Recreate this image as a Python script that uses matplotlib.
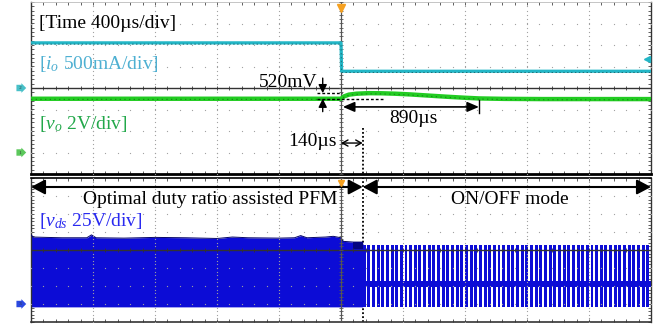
import numpy as np
import matplotlib
matplotlib.use("Agg")
import matplotlib.pyplot as plt

plt.rcParams['font.family'] = ['Liberation Serif', 'DejaVu Serif']
plt.rcParams['mathtext.fontset'] = 'custom'
plt.rcParams['mathtext.rm'] = 'Liberation Serif'
plt.rcParams['mathtext.it'] = 'Liberation Serif:italic'

# ---- scope settings -------------------------------------------------------
TIME_PER_DIV = 400.0        # us
N_HDIV, N_VDIV = 10, 8
IO_PER_DIV = 0.5            # A/div
VO_PER_DIV = 2.0            # V/div
VDS_PER_DIV = 25.0          # V/div
IO_REF, VO_REF, VDS_REF = 0.0, -3.0, -3.0   # ground markers, in divisions

# ---- events ---------------------------------------------------------------
t_step = 0.0                # load step (us)
t_mode = 140.0              # switch to ON/OFF mode (us)
t_settle = 890.0            # vo back to regulation (us)
vo_nominal = 5.0            # V
vo_overshoot = 0.52         # V

# ---- output current io (A) ------------------------------------------------
io_t = [-2000, 0, 4, 2000]
io_a = [1.05, 1.05, 0.39, 0.39]

# ---- output voltage vo (V) ------------------------------------------------
vo_t = [-2000, 0, 20, 50, 100, 180, 260, 350, 450, 560, 680, 790, 890, 1050, 1300, 2000]
vo_v = [5.0, 5.0, 5.22, 5.38, 5.47, 5.52, 5.51, 5.47, 5.40, 5.30, 5.19, 5.10, 5.03,
        4.99, 4.97, 4.97]

# ---- switch voltage vds envelope during PFM (V) ---------------------------
vds_top_t = [-2000, -1985, -1900, -1800, -1640, -1610, -1580, -1400, -1200, -1000,
             -800, -700, -600, -400, -300, -260, -220, -100, -50, 0, 15, 80, 140]
vds_top_v = [96, 93, 92.5, 92, 92, 96, 92, 91.5, 92.5, 92,
             91, 93, 92, 91.5, 92, 95, 92, 93, 94, 92, 87, 86, 86]
vds_low = -4.0

# ---- ON/OFF bursts (V, us) ------------------------------------------------
burst_period = 30.0
burst_on = 19.0
burst_peak = 82.0
idle_lo, idle_hi = 24.0, 32.0


def io_div(a):
    return np.asarray(a) / IO_PER_DIV + IO_REF


def vo_div(v):
    return np.asarray(v) / VO_PER_DIV + VO_REF


def vds_div(v):
    return np.asarray(v) / VDS_PER_DIV + VDS_REF


W, H = 657, 327
fig = plt.figure(figsize=(W / 100, H / 100), dpi=100)
fig.patch.set_facecolor('white')
L, R = 31, 651
ax1 = fig.add_axes([L / W, 1 - 174 / H, (R - L) / W, 172 / H])
ax2 = fig.add_axes([L / W, 1 - 322 / H, (R - L) / W, 144 / H])

tmin, tmax = -N_HDIV / 2 * TIME_PER_DIV, N_HDIV / 2 * TIME_PER_DIV
GRID = '#a0a0a0'

for ax in (ax1, ax2):
    ax.set_xlim(tmin, tmax)
    ax.set_ylim(-N_VDIV / 2, N_VDIV / 2)
    ax.set_xticks(np.arange(tmin, tmax + 1, TIME_PER_DIV / 5))
    ax.set_yticks(np.arange(-4, 4.01, 0.2))
    ax.tick_params(direction='in', length=2.5, width=0.6, color='#444444',
                   top=True, right=True, labelbottom=False, labelleft=False)
    # dotted graticule
    ys = np.arange(-4, 4.01, 0.2)
    for i in range(-4, 5):
        x = i * TIME_PER_DIV
        if i == 0:
            continue
        ax.plot(np.full(ys.shape, x), ys, ls='none', marker='o', ms=0.9,
                mec='none', mfc=GRID, zorder=4)
    xs = np.arange(tmin, tmax + 1, TIME_PER_DIV / 5)
    for j in range(-3, 4):
        if j == 0:
            continue
        ax.plot(xs, np.full(xs.shape, j), ls='none', marker='o', ms=0.9,
                mec='none', mfc=GRID, zorder=4)
    # centre cross with tick marks
    ax.axvline(0, color='#555555', lw=0.9, zorder=4)
    ax.axhline(0, color='#333333', lw=1.0, zorder=4)
    ax.plot(xs, np.zeros_like(xs), ls='none', marker='|', ms=3.5, mew=0.6,
            color='#333333', zorder=4)
    ax.plot(np.zeros_like(ys), ys, ls='none', marker='_', ms=3.5, mew=0.6,
            color='#555555', zorder=4)
    for s in ('left', 'right'):
        ax.spines[s].set_color('#333333')
        ax.spines[s].set_linewidth(1.0)

ax1.spines['top'].set_color('#bbbbbb')
ax1.spines['top'].set_linewidth(0.6)
ax1.spines['bottom'].set_color('black')
ax1.spines['bottom'].set_linewidth(2.0)
ax2.spines['top'].set_color('black')
ax2.spines['top'].set_linewidth(1.2)
ax2.spines['bottom'].set_color('#333333')
ax2.spines['bottom'].set_linewidth(1.2)

# ---- top panel traces -----------------------------------------------------
IO_C, VO_C = '#22b6c6', '#22cc22'
ax1.plot(io_t, io_div(io_a), color=IO_C, lw=2.3, zorder=5)
ax1.plot(io_t, io_div(io_a) - 0.06, color='#1a6f78', lw=0.7,
         dashes=(1.5, 2.5), zorder=6)
ax1.plot(vo_t, vo_div(vo_v), color=VO_C, lw=3.2, zorder=5)
ax1.plot(vo_t, vo_div(vo_v) - 0.03, color='#168a16', lw=0.8,
         dashes=(1.2, 3.0), zorder=6)

# overshoot markers
y_pk = vo_div(vo_nominal + vo_overshoot)
y_nom = vo_div(vo_nominal)
ax1.plot([-155, 6], [y_pk, y_pk], color='black', lw=1.0, dashes=(2, 1.5), zorder=7)
ax1.plot([-155, 284], [y_nom, y_nom], color='black', lw=1.0, dashes=(2, 1.5), zorder=7)
x_ov = -118
ax1.annotate('', xy=(x_ov, y_pk), xytext=(x_ov, y_pk + 0.7),
             arrowprops=dict(arrowstyle='-|>,head_length=0.5,head_width=0.25',
                             mutation_scale=10, color='black', lw=1.0,
                             shrinkA=0, shrinkB=0), zorder=8)
ax1.annotate('', xy=(x_ov, y_nom), xytext=(x_ov, y_nom - 0.6),
             arrowprops=dict(arrowstyle='-|>,head_length=0.5,head_width=0.25',
                             mutation_scale=10, color='black', lw=1.0,
                             shrinkA=0, shrinkB=0), zorder=8)
ax1.text(-150, y_pk + 0.48, '520mV', ha='right', va='center', fontsize=14, zorder=8)

# settling time
y_st = -0.88
ax1.annotate('', xy=(t_settle, y_st), xytext=(t_step + 12, y_st),
             arrowprops=dict(arrowstyle='<|-|>,head_length=0.7,head_width=0.3',
                             mutation_scale=10, color='black', lw=1.2,
                             shrinkA=0, shrinkB=0), zorder=8)
ax1.plot([t_settle, t_settle], [-0.56, -1.16], color='black', lw=1.0, zorder=8)
ax1.text((t_step + t_settle) / 2 + 20, -1.44, '890µs', ha='center', va='center',
         fontsize=14, zorder=8)

# mode change time
y_md = -2.56
ax1.annotate('', xy=(t_mode, y_md), xytext=(t_step, y_md),
             arrowprops=dict(arrowstyle='<->,head_length=0.4,head_width=0.22',
                             mutation_scale=10, color='black', lw=1.0,
                             shrinkA=0, shrinkB=0), zorder=8)
ax1.text(-26, -2.5, '140µs', ha='right', va='center', fontsize=14, zorder=8)
ax1.plot([t_mode, t_mode], [-1.86, -4], color='black', lw=1.3, ls=(0, (1, 1.2)),
         zorder=8)

# channel labels
x_lab = tmin + 52
ax1.text(x_lab, 2.98, '[Time 400µs/div]', ha='left', va='center', fontsize=14,
         color='black', zorder=8)
ax1.text(x_lab, 1.12, r'[$i_o$ 500mA/div]', ha='left', va='center', fontsize=14,
         color='#4eb0d2', zorder=8)
ax1.text(x_lab, -1.67, r'[$v_o$ 2V/div]', ha='left', va='center', fontsize=14,
         color='#22a84a', zorder=8)

# ---- bottom panel: vds ----------------------------------------------------
VDS_C = '#0c0cd6'
ax2.fill_between(vds_top_t, vds_div(vds_low), vds_div(vds_top_v),
                 color=VDS_C, lw=0, zorder=2)
ax2.plot(vds_top_t, vds_div(vds_top_v), color='#05056a', lw=0.7, zorder=3)
ax2.fill_between([78, t_mode], vds_div(76), vds_div(86), color='#050580', lw=0,
                 zorder=3)
ax2.fill_between([t_mode, tmax], vds_div(idle_lo), vds_div(idle_hi),
                 color=VDS_C, lw=0, zorder=2)
starts = np.arange(t_mode, tmax, burst_period)
ax2.bar(starts, vds_div(burst_peak) - vds_div(vds_low), width=burst_on,
        bottom=vds_div(vds_low), align='edge', color=VDS_C, lw=0, zorder=2)
ax2.plot([t_mode, t_mode], [-4, 4], color='black', lw=1.3, ls=(0, (1, 1.2)),
         zorder=1)

ax2.text(x_lab, 1.6, r'[$v_{ds}$ 25V/div]', ha='left', va='center', fontsize=14,
         color='#2a2af0', zorder=8)

y_ar = 3.5
ax2.annotate('', xy=(tmin, y_ar), xytext=(t_mode, y_ar),
             arrowprops=dict(arrowstyle='<|-|>,head_length=0.85,head_width=0.45',
                             mutation_scale=10, color='black', lw=1.5,
                             shrinkA=0, shrinkB=0), zorder=8)
ax2.annotate('', xy=(tmax, y_ar), xytext=(t_mode, y_ar),
             arrowprops=dict(arrowstyle='<|-|>,head_length=0.85,head_width=0.45',
                             mutation_scale=10, color='black', lw=1.5,
                             shrinkA=0, shrinkB=0), zorder=8)
ax2.text(-845, 2.78, 'Optimal duty ratio assisted PFM', ha='center', va='center',
         fontsize=14, zorder=8)
ax2.text(1090, 2.78, 'ON/OFF mode', ha='center', va='center', fontsize=14, zorder=8)

# ---- markers --------------------------------------------------------------
ax1.plot(0, 3.72, marker='v', ms=6, color='#f5a020', clip_on=False, zorder=9)
ax2.plot(0, 3.75, marker='v', ms=5, color='#f5a020', clip_on=False, zorder=9)
ax1.plot(tmax - 25, 1.35, marker='<', ms=4, color=IO_C, clip_on=False, zorder=9)


def ch_marker(ax, y, color, label):
    ax.text(tmin - 70, y, ' ' + label + ' ', ha='center', va='center', fontsize=3.5,
            color='#333333', clip_on=False, zorder=9,
            bbox=dict(boxstyle='rarrow,pad=0.25', fc=color, ec='none'))


ch_marker(ax1, IO_REF, '#48c0c8', '2')
ch_marker(ax1, VO_REF, '#5cc85c', '1')
ch_marker(ax2, VDS_REF, '#2a48e0', '3')

fig.savefig('out.png', dpi=100, facecolor='white')
